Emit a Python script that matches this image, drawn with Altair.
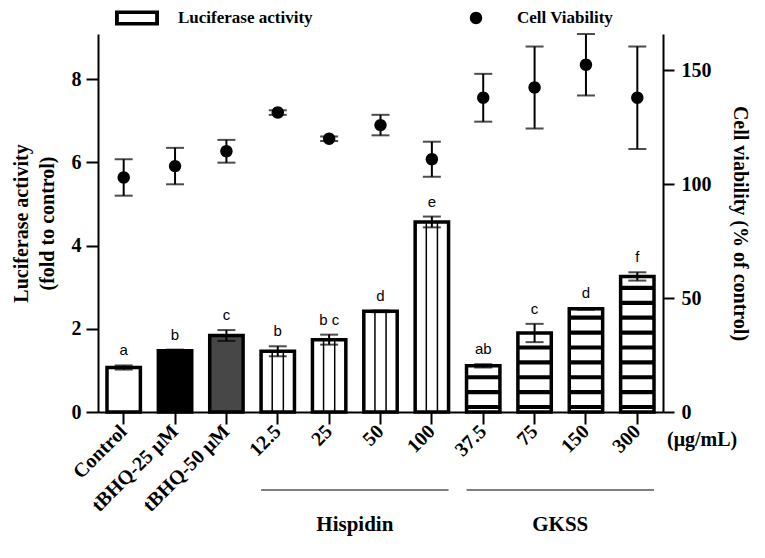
import altair as alt
import pandas as pd
import numpy as np

# ---------------- data ----------------
categories = ["Control", "tBHQ-25 μM", "tBHQ-50 μM", "12.5", "25", "50", "100",
              "37.5", "75", "150", "300"]
groups = ["ctrl", "tbhq25", "tbhq50", "hisp", "hisp", "hisp", "hisp",
          "gkss", "gkss", "gkss", "gkss"]
luciferase = [1.07, 1.47, 1.84, 1.46, 1.74, 2.42, 4.57, 1.11, 1.90, 2.48, 3.26]
luciferase_err = [0.05, 0.03, 0.13, 0.12, 0.12, 0.02, 0.13, 0.04, 0.22, 0.02, 0.10]
letters = ["a", "b", "c", "b", "b c", "d", "e", "ab", "c", "d", "f"]
viability = [103, 108, 114.5, 131.5, 120, 126, 111, 138, 142.5, 152.5, 138]
viability_err = [8, 8, 5, 1, 1, 4.5, 7.7, 10.5, 18, 13.5, 22.5]
fill_by_group = {"ctrl": "white", "tbhq25": "black", "tbhq50": "#474747",
                 "hisp": "white", "gkss": "white"}

group_names = ["Hispidin", "GKSS"]
group_start = ["12.5", "37.5"]
group_end = ["100", "300"]
group_mid_left = ["25", "75"]

W, H = 565, 378
LUC_MAX, VIA_MAX = 9.09, 166
SERIF = "Liberation Serif"
SANS = "Liberation Sans"

df = pd.DataFrame({
    "cat": categories, "grp": groups, "luc": luciferase, "lerr": luciferase_err,
    "letter": letters, "via": viability, "verr": viability_err,
})
df["fillc"] = df["grp"].map(fill_by_group)
df["llo"] = df["luc"] - df["lerr"]
df["lhi"] = df["luc"] + df["lerr"]
df["vlo"] = df["via"] - df["verr"]
df["vhi"] = df["via"] + df["verr"]
df["zero"] = 0.0
df["series"] = "Cell Viability"

# horizontal stripe pattern for the GKSS bars (decoration only)
STRIPE_STEP, STRIPE_H, STRIPE_0 = 0.358, 0.1, 0.12
rows = []
for c, g, v in zip(categories, groups, luciferase):
    if g == "gkss":
        for s in np.arange(STRIPE_0, v - 0.2, STRIPE_STEP):
            rows.append({"cat": c, "s0": s - STRIPE_H / 2, "s1": s + STRIPE_H / 2})
stripes = pd.DataFrame(rows)
hisp = df[df["grp"] == "hisp"]

grp_df = pd.DataFrame({"name": group_names, "start": group_start,
                       "end": group_end, "mid": group_mid_left})

xscale = alt.Scale(domain=categories, paddingInner=0.35, paddingOuter=0.175)
ly = alt.Scale(domain=[0, LUC_MAX], nice=False, zero=True)
ry = alt.Scale(domain=[0, VIA_MAX], nice=False, zero=True)

x_axis = alt.Axis(title=None, labelAngle=-45, labelAlign="right", labelBaseline="middle",
                  labelFont=SERIF, labelFontWeight="bold", labelFontSize=20,
                  labelPadding=4, tickSize=12, tickWidth=2, domainWidth=2,
                  labelColor="black", tickColor="black", domainColor="black")


def XC(field="cat", bp=None):
    kw = {} if bp is None else {"bandPosition": bp}
    return alt.X(f"{field}:N", sort=categories, scale=xscale, axis=x_axis, title=None, **kw)


LT = ["Luciferase activity", "(fold to control)"]
RT = "Cell viability (% of control)"
left_axis = alt.Axis(title=LT, values=[0, 2, 4, 6, 8],
                     titleFont=SERIF, titleFontWeight="bold", titleFontSize=20,
                     titleColor="black", titlePadding=14, titleLineHeight=26,
                     labelFont=SERIF, labelFontWeight="bold", labelFontSize=20,
                     labelColor="black", labelPadding=5, tickSize=12, tickWidth=2,
                     domainWidth=2, tickColor="black", domainColor="black", grid=False)
right_axis = alt.Axis(title=RT, orient="right",
                      values=[0, 50, 100, 150], titleAngle=90,
                      titleFont=SERIF, titleFontWeight="bold", titleFontSize=20,
                      titleColor="black", titlePadding=18,
                      labelFont=SERIF, labelFontWeight="bold", labelFontSize=20,
                      labelColor="black", labelPadding=7, tickSize=11, tickWidth=2,
                      domainWidth=2, tickColor="black", domainColor="black", grid=False)


def YL(field):
    return alt.Y(f"{field}:Q", scale=ly, axis=left_axis, title=LT)


def YR(field):
    return alt.Y(f"{field}:Q", scale=ry, axis=right_axis, title=RT)


base = alt.Chart(df)

bars = base.mark_bar(stroke="black", strokeWidth=3.5).encode(
    x=XC(), y=YL("luc"), fill=alt.Fill("fillc:N", scale=None),
)
vlines = [alt.Chart(hisp).mark_rule(color="black", strokeWidth=1.5).encode(
    x=XC(bp=bp), y=YL("zero"), y2="luc:Q") for bp in (1 / 3, 2 / 3)]
hstripes = alt.Chart(stripes).mark_bar(color="black").encode(
    x=XC(), y=YL("s0"), y2="s1:Q")
lerrs = base.mark_errorbar(ticks=True, size=18, thickness=2, color="black").encode(
    x=XC(), y=YL("llo"), y2="lhi:Q")
ltext = base.mark_text(font=SANS, fontSize=15, baseline="bottom", dy=-7, color="black").encode(
    x=XC(), y=YL("lhi"), text="letter:N")

grp_lines = alt.Chart(grp_df).mark_rule(color="#555555", strokeWidth=1.5).encode(
    x=XC("start", bp=0),
    x2=alt.X2("end:N", bandPosition=1),
    y=alt.value(H + 78))
grp_text = alt.Chart(grp_df).mark_text(font=SERIF, fontWeight="bold", fontSize=21,
                                       dx=9, baseline="middle", color="black").encode(
    x=XC("mid", bp=1), y=alt.value(H + 113), text="name:N")
unit_text = alt.Chart(pd.DataFrame({"t": ["(μg/mL)"]})).mark_text(
    font=SERIF, fontWeight="bold", fontSize=20, align="left", baseline="middle",
    color="black").encode(x=alt.value(W + 4), y=alt.value(H + 28), text="t:N")

left = alt.layer(bars, *vlines, hstripes, lerrs, ltext, grp_lines, grp_text, unit_text)

RECT = "M-1.6,-0.55H1.6V0.55H-1.6Z M-1.32,-0.3V0.3H1.32V-0.3Z"
CIRC = "M-0.45,0A0.45,0.45,0,1,1,0.45,0A0.45,0.45,0,1,1,-0.45,0Z"
SYM = 756

points = base.mark_point(filled=True, size=SYM, color="black", opacity=1).encode(
    x=XC(),
    y=YR("via"),
    shape=alt.Shape("series:N",
                    scale=alt.Scale(domain=["Luciferase activity", "Cell Viability"],
                                    range=[RECT, CIRC]),
                    legend=alt.Legend(title=None, orient="none", legendX=25, legendY=-30,
                                      direction="horizontal", columnPadding=149,
                                      symbolSize=SYM, symbolFillColor="black",
                                      symbolStrokeWidth=0, symbolOpacity=1,
                                      labelFont=SERIF, labelFontWeight="bold",
                                      labelFontSize=17, labelColor="black",
                                      labelOffset=27)),
)
verrs = base.mark_errorbar(ticks=True, size=18, thickness=2, color="black").encode(
    x=XC(), y=YR("vlo"), y2="vhi:Q")

right = alt.layer(verrs, points)

chart = alt.layer(left, right).resolve_scale(y="independent").properties(
    width=W, height=H,
    autosize=alt.AutoSizeParams(type="none"),
    padding={"left": 90, "top": 26, "right": 94, "bottom": 138},
).configure_view(stroke=None)

chart.save("out.html", embed_options={"renderer": "svg", "actions": False})
